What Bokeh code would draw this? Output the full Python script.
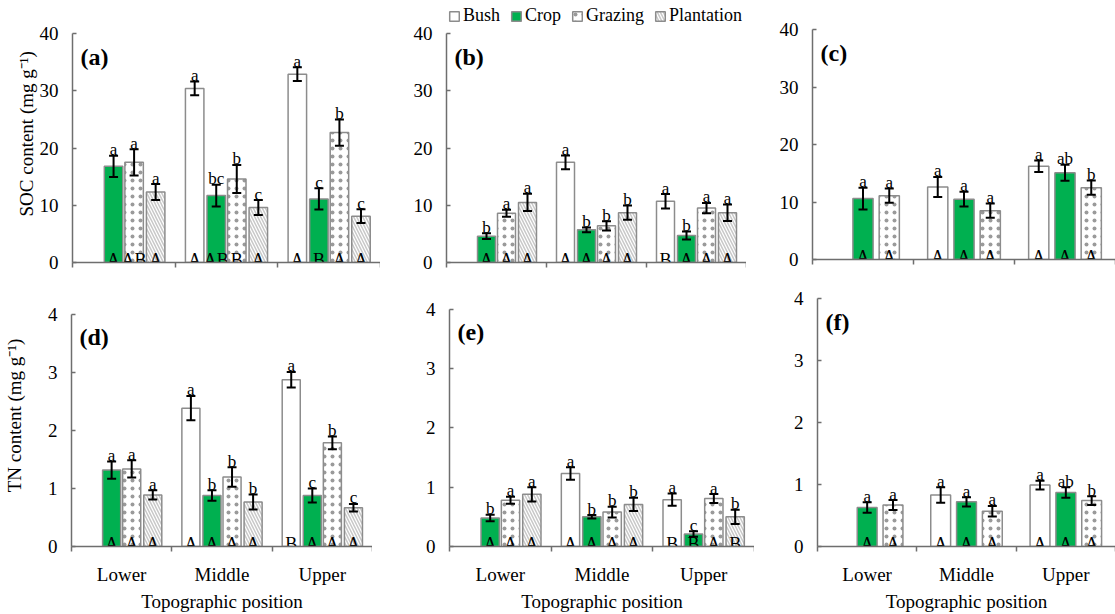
from bokeh.plotting import figure
from bokeh.layouts import column, row
from bokeh.models import (ColumnDataSource, Range1d, FixedTicker, Whisker, TeeHead,
                          Legend, LegendItem, Label)
from bokeh.core.properties import value
from bokeh.embed import file_html
from bokeh.resources import INLINE

FONT = "Liberation Serif"
AXIS = "#6e6e6e"
OUTLINE = "#8c8c8c"

positions = ["Lower", "Middle", "Upper"]
land_uses = ["Bush", "Crop", "Grazing", "Plantation"]
land_uses_3 = ["Bush", "Crop", "Grazing"]

# rows follow the land-use order; None = no sample at that position
# (a) SOC
a_mean = [[None, 30.4, 32.9], [16.8, 11.7, 11.1], [17.5, 14.6, 22.7], [12.3, 9.6, 8.1]]
a_err = [[None, 1.2, 1.2], [1.85, 1.9, 1.85], [2.3, 2.45, 2.3], [1.4, 1.3, 1.2]]
a_sig = [["", "a", "a"], ["a", "bc", "c"], ["a", "b", "b"], ["a", "c", "c"]]
a_pos = [["", "A", "A"], ["A", "AB", "B"], ["AB", "B", "A"], ["A", "A", "A"]]

# (b) SOC
b_mean = [[None, 17.5, 10.7], [4.6, 5.7, 4.7], [8.6, 6.4, 9.5], [10.5, 8.7, 8.7]]
b_err = [[None, 1.2, 1.25], [0.5, 0.4, 0.7], [0.6, 0.8, 0.9], [1.5, 1.25, 1.45]]
b_sig = [["", "a", "a"], ["b", "b", "b"], ["a", "b", "a"], ["a", "b", "a"]]
b_pos = [["", "A", "B"], ["A", "A", "A"], ["A", "A", "A"], ["A", "A", "A"]]

# (c) SOC
c_mean = [[None, 12.6, 16.2], [10.6, 10.5, 15.1], [11.1, 8.5, 12.5]]
c_err = [[None, 1.75, 1.0], [1.9, 1.3, 1.4], [1.25, 1.25, 1.25]]
c_sig = [["", "a", "a"], ["a", "a", "ab"], ["a", "a", "b"]]
c_pos = [["", "A", "A"], ["A", "A", "A"], ["A", "A", "A"]]

# (d) TN
d_mean = [[None, 2.39, 2.88], [1.32, 0.88, 0.88], [1.34, 1.20, 1.79], [0.89, 0.77, 0.67]]
d_err = [[None, 0.21, 0.135], [0.15, 0.09, 0.12], [0.15, 0.17, 0.11], [0.08, 0.13, 0.065]]
d_sig = [["", "a", "a"], ["a", "b", "c"], ["a", "b", "b"], ["a", "b", "c"]]
d_pos = [["", "A", "B"], ["A", "A", "A"], ["A", "A", "A"], ["A", "A", "A"]]

# (e) TN
e_mean = [[None, 1.23, 0.79], [0.48, 0.50, 0.21], [0.78, 0.58, 0.81], [0.88, 0.71, 0.50]]
e_err = [[None, 0.105, 0.105], [0.055, 0.03, 0.045], [0.06, 0.09, 0.075], [0.12, 0.11, 0.12]]
e_sig = [["", "a", "a"], ["b", "b", "c"], ["a", "b", "a"], ["a", "b", "b"]]
e_pos = [["", "A", "B"], ["A", "A", "B"], ["A", "A", "A"], ["A", "A", "B"]]

# (f) TN
f_mean = [[None, 0.83, 0.99], [0.63, 0.72, 0.87], [0.67, 0.57, 0.74]]
f_err = [[None, 0.125, 0.07], [0.085, 0.075, 0.085], [0.08, 0.085, 0.07]]
f_sig = [["", "a", "a"], ["a", "a", "ab"], ["a", "a", "b"]]
f_pos = [["", "A", "A"], ["A", "A", "A"], ["A", "A", "A"]]

STYLE = {
    "Bush": dict(fill_color="white"),
    "Crop": dict(fill_color="#00B050"),
    "Grazing": dict(fill_color="white", hatch_pattern="dot", hatch_color="#9a9a9a",
                    hatch_scale=8, hatch_weight=0.6),
    "Plantation": dict(fill_color="white", hatch_pattern="left_diagonal_line",
                       hatch_color="#c8c8c8", hatch_scale=6, hatch_weight=1.5),
}


def panel(tag, means, errs, sigs, grps, series, ymax, step, size, borders,
          ylabel=None, ylabel_standoff=9, bottom_row=False):
    """One bar panel; the frame reaches the top of the canvas and the y axis
    is bounded to [0, ymax], so that free space above it stays drawable."""
    w, h = size
    left, axis_top, bottom = borders
    frame_h = h - bottom
    axis_h = frame_h - axis_top
    y_end = ymax * frame_h / axis_h
    p = figure(width=w, height=h, x_range=Range1d(0, 3), y_range=Range1d(0, y_end),
               output_backend="svg", toolbar_location=None, frame_align=False,
               min_border_left=left, min_border_right=0,
               min_border_top=0, min_border_bottom=bottom,
               outline_line_color=None, background_fill_color="white",
               border_fill_color="white")
    p.xgrid.visible = False
    p.ygrid.visible = False

    n = len(series)
    if n == 4:
        offsets, bw = [-0.31, -0.10, 0.10, 0.31], 0.18
    else:
        offsets, bw = [-0.26, 0.0, 0.26], 0.20

    renderers = {}
    for k, name in enumerate(series):
        xs, tops, lo, hi, sg, gp = [], [], [], [], [], []
        for i in range(len(positions)):
            m = means[k][i]
            if m is None:
                continue
            e = errs[k][i]
            xs.append(i + 0.5 + offsets[k])
            tops.append(m)
            lo.append(m - e)
            hi.append(m + e)
            sg.append(sigs[k][i])
            gp.append(grps[k][i])
        src = ColumnDataSource(dict(x=xs, top=tops, lower=lo, upper=hi, sig=sg, grp=gp))
        r = p.vbar(x="x", top="top", bottom=0, width=bw, source=src,
                   line_color=OUTLINE, line_width=1.5, **STYLE[name])
        renderers[name] = r
        p.add_layout(Whisker(base="x", upper="upper", lower="lower", source=src,
                             level="annotation", line_color="black", line_width=2,
                             upper_head=TeeHead(size=9, line_color="black", line_width=2),
                             lower_head=TeeHead(size=9, line_color="black", line_width=2)))
        p.text(x="x", y="upper", text="sig", source=src, text_align="center",
               text_baseline="alphabetic", y_offset=-6, text_font=value(FONT),
               text_font_size="17px", text_color="black")
        p.text(x="x", y=0, text="grp", source=src, text_align="center",
               text_baseline="alphabetic", y_offset=-3, text_font=value(FONT),
               text_font_size="18px", text_color="black")

    p.add_layout(Label(x=3 * 8 / (w - left), y=ymax * (1 - 23 / axis_h), text=tag,
                       text_font=FONT, text_font_size="24px", text_font_style="bold",
                       text_baseline="middle", text_align="left", text_color="black"))

    xa = p.xaxis[0]
    xa.ticker = FixedTicker(ticks=[0.5, 1.5, 2.5], minor_ticks=[0, 1, 2, 3])
    xa.major_tick_in = 0
    xa.major_tick_out = 0
    xa.minor_tick_in = 0
    xa.minor_tick_out = 5
    xa.minor_tick_line_color = AXIS
    xa.minor_tick_line_width = 1.5
    xa.axis_line_color = AXIS
    xa.axis_line_width = 1.5
    xa.major_label_text_font = FONT
    xa.major_label_text_color = "black"
    if bottom_row:
        xa.major_label_overrides = {0.5: "Lower", 1.5: "Middle", 2.5: "Upper"}
        xa.major_label_standoff = 12
        xa.major_label_text_font_size = "19px"
        xa.axis_label = "Topographic position"
        xa.axis_label_text_font = FONT
        xa.axis_label_text_font_size = "19px"
        xa.axis_label_text_font_style = "normal"
        xa.axis_label_text_color = "black"
        xa.axis_label_standoff = 3
    else:
        xa.major_label_overrides = {0.5: "", 1.5: "", 2.5: ""}
        xa.major_label_standoff = 0
        xa.major_label_text_font_size = "1px"

    ya = p.yaxis[0]
    ya.bounds = (0, ymax)
    ya.ticker = FixedTicker(ticks=list(range(0, ymax + step, step)))
    ya.major_tick_in = 4
    ya.major_tick_out = 0
    ya.minor_tick_in = 0
    ya.minor_tick_out = 0
    ya.major_tick_line_color = AXIS
    ya.major_tick_line_width = 1.5
    ya.axis_line_color = AXIS
    ya.axis_line_width = 1.5
    ya.major_label_standoff = 14
    ya.major_label_text_font = FONT
    ya.major_label_text_font_size = "19px"
    ya.major_label_text_color = "black"
    if ylabel:
        ya.axis_label = ylabel
        ya.axis_label_text_font = FONT
        ya.axis_label_text_font_size = "19px"
        ya.axis_label_text_font_style = "normal"
        ya.axis_label_text_color = "black"
        ya.axis_label_standoff = ylabel_standoff
    return p, renderers, frame_h


pa, _, _ = panel("(a)", a_mean, a_err, a_sig, a_pos, land_uses, 40, 10, (380, 284), (72, 33, 22),
                 ylabel="SOC content  (mg g\u207b\u00b9)", ylabel_standoff=0)
pb, rb, fh_b = panel("(b)", b_mean, b_err, b_sig, b_pos, land_uses, 40, 10, (366, 284), (66, 33, 22))
pc, _, _ = panel("(c)", c_mean, c_err, c_sig, c_pos, land_uses_3, 40, 10, (369, 284), (66, 29, 25))
pd, _, _ = panel("(d)", d_mean, d_err, d_sig, d_pos, land_uses, 4, 1, (372, 330), (68, 31, 63),
                 ylabel="TN content (mg g\u207b\u00b9)", ylabel_standoff=20, bottom_row=True)
pe, _, _ = panel("(e)", e_mean, e_err, e_sig, e_pos, land_uses, 4, 1, (382, 330), (77, 25, 65),
                 bottom_row=True)
pf, _, _ = panel("(f)", f_mean, f_err, f_sig, f_pos, land_uses_3, 4, 1, (361, 330), (63, 14, 68),
                 bottom_row=True)

# shared key, placed in the free space above panel (b)'s axis
legend = Legend(items=[LegendItem(label=name, renderers=[rb[name]]) for name in land_uses],
                location=(2, fh_b - 26), orientation="horizontal",
                label_text_font=FONT, label_text_font_size="18px", label_text_color="black",
                label_standoff=3, spacing=10, glyph_width=12, glyph_height=12,
                label_height=12, padding=0, margin=0,
                border_line_color=None, background_fill_alpha=0)
pb.add_layout(legend)

layout = column(row(pa, pb, pc), row(pd, pe, pf))
open("out.html", "w").write(file_html(layout, INLINE))
